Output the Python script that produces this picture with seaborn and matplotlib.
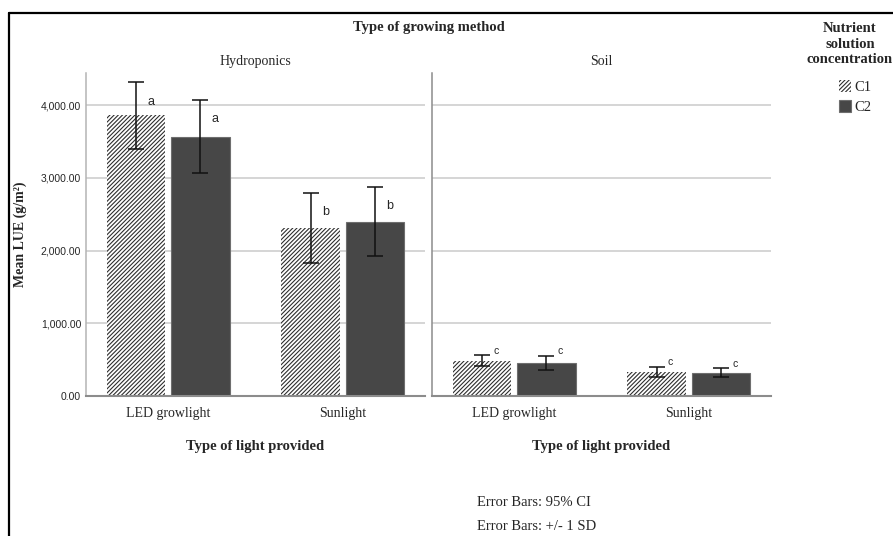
import matplotlib
matplotlib.use('Agg')
import matplotlib.pyplot as plt
from matplotlib.lines import Line2D
from matplotlib.patches import Patch
from matplotlib.ticker import FuncFormatter
import pandas as pd
import seaborn as sns

methods = ['Hydroponics', 'Soil']
lights = ['LED growlight', 'Sunlight']
concs = ['C1', 'C2']

# means and error half-widths, order: LED growlight, Sunlight
hydro_c1_mean = [3857, 2314]
hydro_c2_mean = [3567, 2397]
hydro_c1_err = [455, 482]
hydro_c2_err = [502, 476]
soil_c1_mean = [482, 331]
soil_c2_mean = [455, 317]
soil_c1_err = [76, 69]
soil_c2_err = [97, 62]

hydro_c1_letter = ['a', 'b']
hydro_c2_letter = ['a', 'b']
soil_c1_letter = ['c', 'c']
soil_c2_letter = ['c', 'c']

yticks = [0, 1000, 2000, 3000, 4000]

HATCH = '////////'


def build_frame():
    rows = []
    groups = [
        ('Hydroponics', 'C1', hydro_c1_mean, hydro_c1_err, hydro_c1_letter),
        ('Hydroponics', 'C2', hydro_c2_mean, hydro_c2_err, hydro_c2_letter),
        ('Soil', 'C1', soil_c1_mean, soil_c1_err, soil_c1_letter),
        ('Soil', 'C2', soil_c2_mean, soil_c2_err, soil_c2_letter),
    ]
    for method, conc, means, errs, letters in groups:
        for light, m, e, l in zip(lights, means, errs, letters):
            rows.append(dict(method=method, light=light, conc=conc, mean=m, err=e, letter=l))
    return pd.DataFrame(rows)


def draw_panel(ax, sub, show_y):
    sns.barplot(data=sub, x='light', y='mean', hue='conc', order=lights, hue_order=concs,
                palette={'C1': 'white', 'C2': '#474747'}, saturation=1,
                width=0.737, gap=0.09, errorbar=None, legend=False, ax=ax, zorder=2)

    for container, conc in zip(ax.containers, concs):
        for bar in container:
            xc = bar.get_x() + bar.get_width() / 2
            light = lights[int(round(xc))]
            row = sub[(sub.light == light) & (sub.conc == conc)].iloc[0]
            if conc == 'C1':
                bar.set_facecolor('white')
                bar.set_edgecolor('#2e2e2e')
                bar.set_hatch(HATCH)
                bar.set_linewidth(0)
            else:
                bar.set_edgecolor('#6e6e6e')
                bar.set_linewidth(0.8)
            ax.errorbar(xc, row['mean'], yerr=row['err'], color='#111111', elinewidth=1.1,
                        capsize=5.8, capthick=1.1, zorder=3)
            top = row['mean'] + row['err']
            if row['letter'] == 'c':
                ax.annotate('c', (xc, top), xytext=(8, 3.5), textcoords='offset points',
                            ha='left', va='center', fontsize=7.5, family='Liberation Sans')
            else:
                ax.annotate(row['letter'], (xc, top), xytext=(8, -14), textcoords='offset points',
                            ha='left', va='center', fontsize=9, family='Liberation Sans')

    ax.set_xlim(-0.47, 1.47)
    ax.set_ylim(0, 4440)
    ax.set_yticks(yticks)
    ax.yaxis.set_major_formatter(FuncFormatter(lambda v, p: f'{v:,.2f}'))
    ax.grid(axis='y', color='#d2d2d2', lw=1.3)
    ax.grid(axis='x', visible=False)
    ax.set_axisbelow(True)
    for s in ['top', 'right']:
        ax.spines[s].set_visible(False)
    ax.spines['bottom'].set_color('#8c8c8c')
    ax.spines['bottom'].set_linewidth(1.5)
    ax.spines['left'].set_color('#b4b4b4' if show_y else '#8c8c8c')
    ax.spines['left'].set_linewidth(1.1)
    ax.tick_params(axis='both', length=0)
    ax.tick_params(axis='x', pad=8, labelsize=10)
    ax.tick_params(axis='y', pad=3.5, labelsize=7.5)
    for t in ax.get_yticklabels():
        t.set_family('Liberation Sans')
    if not show_y:
        ax.set_yticklabels([])
    ax.set_ylabel('')
    ax.set_xlabel('Type of light provided', fontsize=10.5, fontweight='bold', labelpad=14)


def main():
    sns.set_style('white')
    plt.rcParams['font.family'] = ['Liberation Serif', 'DejaVu Serif']
    plt.rcParams['hatch.linewidth'] = 0.8

    df = build_frame()

    W, H = 893, 536
    fig = plt.figure(figsize=(W / 100, H / 100), dpi=100)
    ax1 = fig.add_axes([86 / W, 1 - 396 / H, 339 / W, 323 / H])
    ax2 = fig.add_axes([432 / W, 1 - 396 / H, 339 / W, 323 / H])

    for ax, method, show_y in [(ax1, 'Hydroponics', True), (ax2, 'Soil', False)]:
        draw_panel(ax, df[df.method == method], show_y)
        ax.set_title(method, fontsize=10, pad=5.5)

    ax1.set_ylabel('Mean LUE (g/m²)', fontsize=10, fontweight='bold', labelpad=10)

    fig.text(428.5 / W, 1 - 28 / H, 'Type of growing method', ha='center', va='center',
             fontsize=10.5, fontweight='bold')

    # legend title drawn as its own text, legend entries below it
    lx = 850 / W
    fig.text(lx, 1 - 44 / H, 'Nutrient\nsolution\nconcentration', ha='center', va='center',
             multialignment='center', fontsize=10.5, fontweight='bold', linespacing=1.25)
    handles = [Patch(facecolor='white', edgecolor='#2e2e2e', hatch=HATCH, lw=0),
               Patch(facecolor='#474747', edgecolor='#6e6e6e', lw=0.8)]
    fig.legend(handles, concs, loc='upper center', bbox_to_anchor=(855 / W, 1 - 80 / H),
               frameon=False, prop={'family': 'Liberation Serif', 'size': 10.5},
               handlelength=0.85, handleheight=0.85, handletextpad=0.2,
               labelspacing=0.42, borderpad=0, borderaxespad=0)

    fig.text(477 / W, 1 - 503 / H, 'Error Bars: 95% CI', ha='left', va='center', fontsize=10.5)
    fig.text(477 / W, 1 - 527 / H, 'Error Bars: +/- 1 SD', ha='left', va='center', fontsize=10.5)

    # outer frame lines (top and left)
    fig.add_artist(Line2D([9 / W, 1], [1 - 13 / H, 1 - 13 / H], transform=fig.transFigure,
                          color='black', lw=1.6))
    fig.add_artist(Line2D([9 / W, 9 / W], [0, 1 - 13 / H], transform=fig.transFigure,
                          color='black', lw=1.6))

    fig.savefig('out.png', dpi=100)


if __name__ == '__main__':
    main()
